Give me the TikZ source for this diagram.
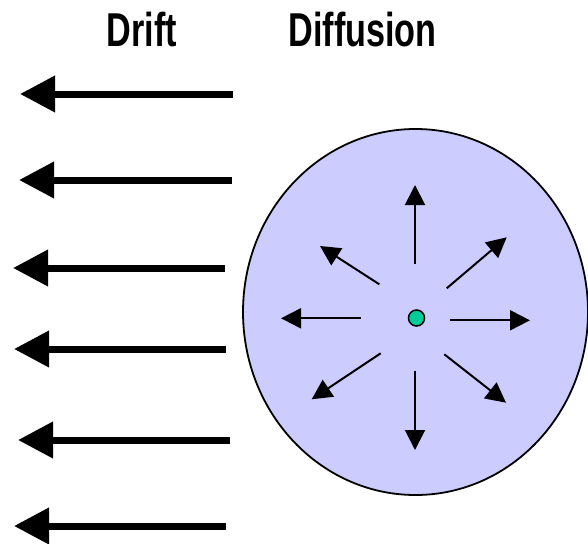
\documentclass[tikz,border=0pt]{standalone}
\usepackage{fontspec}
\setmainfont{Liberation Sans}
\usetikzlibrary{arrows.meta, shapes.geometric}
\definecolor{cloud}{HTML}{CCCCFF}
\definecolor{particle}{HTML}{00CC99}
\tikzset{
  title/.style={font=\bfseries\fontsize{47.5}{50}\selectfont, anchor=base, xscale=0.72, inner sep=0pt},
  driftarrow/.style={line width=7pt, -{Triangle[length=35pt, width=35pt]}},
  diffarrow/.style={line width=2pt, -{Triangle[length=20pt, width=20pt]}},
}
\begin{document}
\begin{tikzpicture}[x=1pt, y=-1pt]
  \useasboundingbox (0,0) rectangle (588,543);

  % headings
  \node[title] (drift) at (142,47) {Drift};
  \node[title] (diff) at (362.5,47) {Diffusion};

  % drift: uniform leftward flow
  \foreach \i/\y/\xa/\xb in {1/94/233/20, 2/180/232/19, 3/268/225/13, 4/349/226/14, 5/440/230/18, 6/526/226/14} {
    \coordinate (ds\i) at (\xb,\y);
    \coordinate (dt\i) at (\xa,\y);
    \draw[driftarrow] (dt\i) -- (ds\i);
  }

  % diffusion cloud
  \node[ellipse, draw, line width=1.8pt, fill=cloud, minimum width=345pt, minimum height=366pt, inner sep=0pt] (cloud) at (415.5,312) {};
  \node[circle, draw, line width=1.5pt, fill=particle, minimum size=16pt, inner sep=0pt] (p) at (416.5,318) {};

  % spreading in all directions
  \foreach \n/\sx/\sy/\ex/\ey in {
      u/415/264/415/185,
      ur/446.7/288.3/506.7/237.3,
      r/450/320.3/530/320.3,
      dr/444.3/354.3/506/402.7,
      d/415/370.7/415/450,
      dl/380.7/353.3/311.7/399.3,
      l/360.7/318.3/281/318.3,
      ul/379.3/284.3/320/246} {
    \coordinate (s\n) at (\sx,\sy);
    \coordinate (e\n) at (\ex,\ey);
    \draw[diffarrow] (s\n) -- (e\n);
  }
\end{tikzpicture}
\end{document}
